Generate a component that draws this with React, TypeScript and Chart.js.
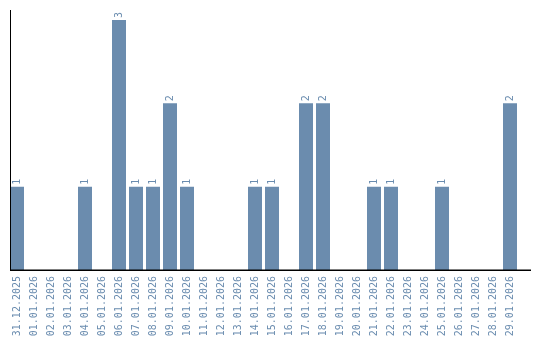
import React, { useEffect, useRef } from "react";
import { Chart, registerables } from "chart.js";

Chart.register(...registerables);

const categories = [
  "31.12.2025", "01.01.2026", "02.01.2026", "03.01.2026", "04.01.2026",
  "05.01.2026", "06.01.2026", "07.01.2026", "08.01.2026", "09.01.2026",
  "10.01.2026", "11.01.2026", "12.01.2026", "13.01.2026", "14.01.2026",
  "15.01.2026", "16.01.2026", "17.01.2026", "18.01.2026", "19.01.2026",
  "20.01.2026", "21.01.2026", "22.01.2026", "23.01.2026", "24.01.2026",
  "25.01.2026", "26.01.2026", "27.01.2026", "28.01.2026", "29.01.2026",
];
const counts = [
  1, 0, 0, 0, 1, 0, 3, 1, 1, 2,
  1, 0, 0, 0, 1, 1, 0, 2, 2, 0,
  0, 1, 1, 0, 0, 1, 0, 0, 0, 2,
];

const BAR = "#6b8cae";
const TEXT = "#6a8caf";
const FONT = "DejaVu Sans Mono";

const overlay = {
  id: "overlay",
  afterDatasetsDraw(chart: any) {
    const { ctx, chartArea } = chart;
    ctx.save();
    ctx.fillStyle = "#000";
    ctx.fillRect(10, chartArea.top, 1, chartArea.bottom - chartArea.top + 1);
    ctx.fillRect(10, chartArea.bottom - 0.5, 521, 1.5);
    const meta = chart.getDatasetMeta(0);
    ctx.fillStyle = TEXT;
    ctx.font = `10px "${FONT}"`;
    ctx.textAlign = "left";
    ctx.textBaseline = "middle";
    meta.data.forEach((el: any, i: number) => {
      const v = counts[i];
      if (!v) return;
      ctx.save();
      ctx.translate(el.x, el.y - 2);
      ctx.rotate(-Math.PI / 2);
      ctx.fillText(String(v), 0, 0);
      ctx.restore();
    });
    ctx.restore();
  },
};

export default function App() {
  const ref = useRef<HTMLCanvasElement | null>(null);
  useEffect(() => {
    document.body.style.margin = "0";
    const chart = new Chart(ref.current!, {
      type: "bar",
      data: {
        labels: categories,
        datasets: [
          {
            data: counts,
            backgroundColor: BAR,
            borderWidth: 0,
            barPercentage: 1,
            categoryPercentage: 14 / 17,
          },
        ],
      },
      options: {
        animation: false,
        responsive: false,
        maintainAspectRatio: false,
        layout: { padding: { top: 10, left: 8.5, right: 21.5, bottom: 0 } },
        plugins: { legend: { display: false }, tooltip: { enabled: false } },
        scales: {
          x: {
            grid: { display: false, drawTicks: false },
            border: { display: false },
            ticks: {
              color: TEXT,
              font: { family: FONT, size: 10 },
              minRotation: 90,
              maxRotation: 90,
              autoSkip: false,
              padding: 6,
            },
            afterFit: (s: any) => {
              s.height = 70;
            },
          },
          y: {
            display: false,
            min: 0,
            max: 3.12,
          },
        },
      },
      plugins: [overlay],
    });
    return () => chart.destroy();
  }, []);
  return (
    <div style={{ position: "absolute", left: 0, top: 0, width: 540, height: 340 }}>
      <canvas ref={ref} width={540} height={340} />
    </div>
  );
}
